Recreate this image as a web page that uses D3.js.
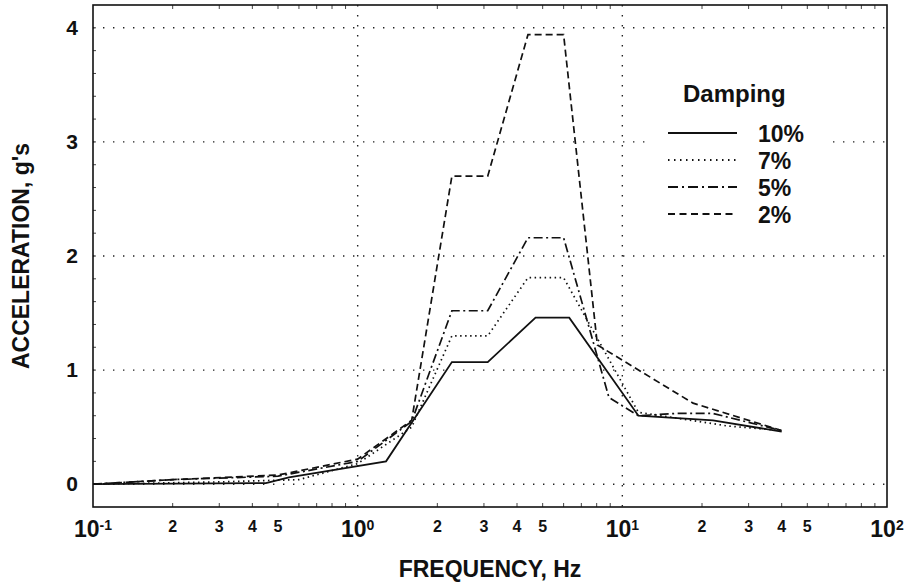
<!DOCTYPE html>
<html>
<head>
<meta charset="utf-8">
<script src="https://cdn.jsdelivr.net/npm/d3@7"></script>
<style>
  body { margin: 0; background: #fff; }
  text { font-family: "Liberation Sans", Arial, sans-serif; font-weight: bold; fill: #111; }
</style>
</head>
<body>
<div id="chart"></div>
<script>
// damping curves, frequency (Hz) and acceleration (g's)
var freq10 = [0.1, 0.45, 0.55, 1.28, 2.27, 3.1, 4.7, 6.3, 11.5, 22, 40];
var acc10  = [0, 0.01, 0.06, 0.2, 1.07, 1.07, 1.46, 1.46, 0.6, 0.56, 0.46];

var freq7 = [0.1, 0.3, 0.6, 1.0, 1.6, 2.27, 3.1, 4.4, 6.0, 11.5, 16, 25, 40];
var acc7  = [0, 0.02, 0.04, 0.18, 0.5, 1.3, 1.3, 1.81, 1.81, 0.63, 0.58, 0.51, 0.47];

var freq5 = [0.1, 0.2, 0.5, 1.0, 1.6, 2.27, 3.1, 4.4, 6.0, 8.9, 11.5, 16, 22, 40];
var acc5  = [0, 0.04, 0.07, 0.2, 0.55, 1.52, 1.52, 2.16, 2.16, 0.76, 0.6, 0.62, 0.62, 0.47];

var freq2 = [0.1, 0.2, 0.5, 1.0, 1.6, 2.27, 3.1, 4.4, 6.0, 8.05, 18.5, 40];
var acc2  = [0, 0.04, 0.08, 0.22, 0.56, 2.7, 2.7, 3.94, 3.94, 1.22, 0.71, 0.47];

var seriesNames = ["10%", "7%", "5%", "2%"];
var seriesDash = [null, "1.5,3.5", "9,3.5,2,3.5", "7,4"];
var legendDash = [null, "1.5,4.5", "10,4,2,4", "7,4.5"];

var yTicks = [0, 1, 2, 3, 4];
var decadeExps = [-1, 0, 1, 2];
var minorLabels = [2, 3, 4, 5];

var width = 912, height = 586;
var plotLeft = 93, plotRight = 887, plotTop = 5, plotBottom = 507;

var svg = d3.select("#chart").append("svg")
    .attr("width", width)
    .attr("height", height);

var x = d3.scaleLog().domain([0.1, 100]).range([plotLeft, plotRight]);
var y = d3.scaleLinear().domain([-0.2, 4.2]).range([plotBottom, plotTop]);

// grid
var grid = svg.append("g").attr("stroke", "#222").attr("stroke-width", 1.4)
    .attr("stroke-dasharray", "1.4,8.6");
grid.selectAll(".hg").data(yTicks).enter().append("line")
    .attr("x1", plotLeft).attr("x2", plotRight)
    .attr("y1", function (d) { return y(d); })
    .attr("y2", function (d) { return y(d); });
grid.selectAll(".vg").data([1, 10]).enter().append("line")
    .attr("y1", plotTop).attr("y2", plotBottom)
    .attr("x1", function (d) { return x(d); })
    .attr("x2", function (d) { return x(d); });

// minor ticks (inward)
var minorX = [];
[0.1, 1, 10].forEach(function (dec) {
    for (var k = 2; k <= 9; k++) minorX.push(dec * k);
});
var tk = svg.append("g").attr("stroke", "#444").attr("stroke-width", 1);
tk.selectAll(".bt").data(minorX).enter().append("line")
    .attr("x1", function (d) { return x(d); }).attr("x2", function (d) { return x(d); })
    .attr("y1", plotBottom).attr("y2", plotBottom - 4);
tk.selectAll(".tt").data(minorX).enter().append("line")
    .attr("x1", function (d) { return x(d); }).attr("x2", function (d) { return x(d); })
    .attr("y1", plotTop).attr("y2", plotTop + 4);
tk.selectAll(".lt").data(d3.range(0, 42, 2).map(function (d) { return d / 10; })).enter().append("line")
    .attr("x1", plotLeft).attr("x2", plotLeft + 3)
    .attr("y1", function (d) { return y(d); }).attr("y2", function (d) { return y(d); });

// curves
var line = d3.line()
    .x(function (d) { return x(d[0]); })
    .y(function (d) { return y(d[1]); });

var series = [[freq10, acc10], [freq7, acc7], [freq5, acc5], [freq2, acc2]];
series.forEach(function (s, i) {
    var pts = s[0].map(function (f, j) { return [f, s[1][j]]; });
    svg.append("path")
        .datum(pts)
        .attr("fill", "none")
        .attr("stroke", "#111")
        .attr("stroke-width", i == 0 ? 1.8 : 1.7)
        .attr("stroke-dasharray", seriesDash[i])
        .attr("d", line);
});

// frame
svg.append("rect")
    .attr("x", plotLeft).attr("y", plotTop)
    .attr("width", plotRight - plotLeft).attr("height", plotBottom - plotTop)
    .attr("fill", "none").attr("stroke", "#111").attr("stroke-width", 1.6);

// legend
var lg = svg.append("g");
lg.append("rect")
    .attr("x", 645).attr("y", 66).attr("width", 183).attr("height", 166)
    .attr("fill", "#fff");
lg.append("text")
    .attr("x", 683).attr("y", 102)
    .style("font-size", "24px")
    .text("Damping");
seriesNames.forEach(function (name, i) {
    var by = 142 + i * 27;
    lg.append("line")
        .attr("x1", 668).attr("x2", 737)
        .attr("y1", by - 9).attr("y2", by - 9)
        .attr("stroke", "#111").attr("stroke-width", 1.8)
        .attr("stroke-dasharray", legendDash[i]);
    lg.append("text")
        .attr("x", 758).attr("y", by)
        .style("font-size", "23px")
        .text(name);
});

// y tick labels
svg.selectAll(".yl").data(yTicks).enter().append("text")
    .attr("x", 78)
    .attr("y", function (d) { return y(d) + 7; })
    .attr("text-anchor", "end")
    .style("font-size", "21px")
    .text(function (d) { return d; });

// x decade labels
decadeExps.forEach(function (e) {
    var t = svg.append("text")
        .attr("x", x(Math.pow(10, e)))
        .attr("y", 537)
        .attr("text-anchor", "middle")
        .style("font-size", "23px");
    t.append("tspan").text("10");
    t.append("tspan").attr("dy", -7).style("font-size", "14px").text(e);
});

// x minor labels
var minorPos = [];
[0.1, 1, 10].forEach(function (dec) {
    minorLabels.forEach(function (m) { minorPos.push([dec * m, m]); });
});
svg.selectAll(".xm").data(minorPos).enter().append("text")
    .attr("x", function (d) { return x(d[0]); })
    .attr("y", 532)
    .attr("text-anchor", "middle")
    .style("font-size", "16px")
    .text(function (d) { return d[1]; });

// axis titles
svg.append("text")
    .attr("x", (plotLeft + plotRight) / 2).attr("y", 577)
    .attr("text-anchor", "middle")
    .style("font-size", "23px")
    .text("FREQUENCY, Hz");

svg.append("text")
    .attr("transform", "translate(29," + ((plotTop + plotBottom) / 2) + ") rotate(-90)")
    .attr("text-anchor", "middle")
    .style("font-size", "23px")
    .text("ACCELERATION, g's");
</script>
</body>
</html>
